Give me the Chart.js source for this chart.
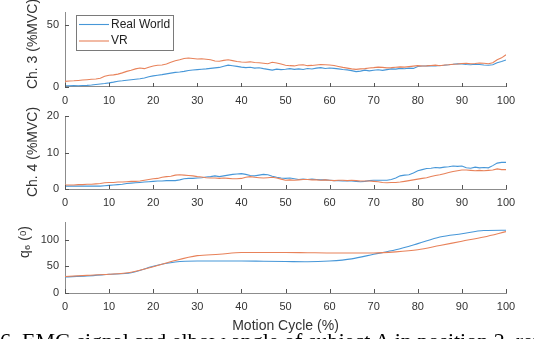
<!DOCTYPE html>
<html>
<head>
<meta charset="utf-8">
<script src="https://cdn.jsdelivr.net/npm/chart.js@4/dist/chart.umd.min.js"></script>
<style>
  html, body { margin: 0; padding: 0; background: #fff; }
  #wrap { position: relative; width: 534px; height: 339px; overflow: hidden; background: #fff; }
  #wrap canvas { position: absolute; left: 0; top: 0; }
  #caption { position: absolute; left: 0px; top: 329px; font-family: "Liberation Serif", "Times New Roman", serif; font-size: 22px; line-height: 24px; color: #000; white-space: nowrap; }
</style>
</head>
<body>
<div id="wrap">
  <canvas id="c1" width="534" height="339"></canvas>
  <canvas id="c2" width="534" height="339"></canvas>
  <canvas id="c3" width="534" height="339"></canvas>
  <div id="caption">6. EMG signal and elbow angle of subject A in position 2, repetition 1.</div>
</div>
<script>
// ---------- DATA ----------
const seriesNames = ["Real World", "VR"];
const cycleEMG = [0,1,2,3,4,5,6,7,8,9,10,11,12,13,14,15,16,17,18,19,20,21,22,23,24,25,26,27,28,29,30,31,32,33,34,35,36,37,38,39,40,41,42,43,44,45,46,47,48,49,50,51,52,53,54,55,56,57,58,59,60,61,62,63,64,65,66,67,68,69,70,71,72,73,74,75,76,77,78,79,80,81,82,83,84,85,86,87,88,89,90,91,92,93,94,95,96,97,98,99,100];
const cycleAngle = [0,5,10,15,20,25,30,35,40,45,50,55,60,65,70,75,80,85,90,95,100];
const xTicks = [0,10,20,30,40,50,60,70,80,90,100];

const ch3RealWorld = [1.0,1.0,1.1,1.0,1.2,1.3, 1.6,2.0,2.4,2.8,3.3, 3.9,4.6,5.0,5.5,5.9, 6.3,6.6,7.2,8.2,9.0, 9.5,10.0,10.6,11.2,11.8, 12.1,12.6,13.3,13.7,14.0, 14.3,14.6,15.0,15.4,15.8, 16.8,17.6,17.2,16.6,16.0, 15.6,15.9,15.2,15.5,14.8, 14.2,13.6,14.4,14.0,14.3, 14.8,14.2,14.6,14.1,14.9, 14.5,15.2,15.6,14.9,15.3, 15.0,14.6,14.1,13.8,13.2, 12.4,12.8,13.6,13.0,13.5, 13.9,13.4,14.0,14.6,14.4, 15.0,14.7,15.2,15.0,16.6, 16.9,17.0,17.2,16.9,17.4, 17.6,17.9,18.3,18.8,18.5, 18.2,18.0,18.4,18.1,17.8, 17.6,17.9,19.6,20.5,21.8];
const ch3VR = [4.5,4.8,5.0,5.3,5.6,5.9, 6.2,6.5,7.0,8.6,9.5, 9.8,10.4,11.4,12.6,13.5, 14.6,15.3,14.8,16.0,17.0, 17.5,17.8,18.6,20.0,21.2, 22.0,23.0,23.4,23.0,22.6, 22.8,22.4,22.0,21.0,20.8, 21.5,22.0,21.3,20.6,20.2, 20.0,20.3,19.8,19.6,19.2, 18.8,19.9,19.4,18.5,17.6, 17.2,17.0,17.8,18.0,17.2, 17.4,17.8,18.2,18.0,17.8, 17.3,16.6,15.8,15.2,14.6, 14.2,14.6,14.8,15.3,15.6, 16.0,15.8,15.4,15.6,15.9, 16.2,16.0,16.4,16.8,17.2, 16.9,17.0,17.4,17.6,17.2, 17.8,18.0,18.4,18.6,19.0, 19.2,18.8,19.0,19.4,19.2, 18.8,19.6,22.0,23.5,26.0];

const ch4RealWorld = [0.8,0.8,0.8,0.8,0.8,0.8, 0.8,0.8,0.8,0.9,1.0, 1.1,1.2,1.3,1.5,1.6, 1.7,1.8,1.9,2.0,2.1, 2.2,2.2,2.3,2.3,2.3, 2.5,2.8,2.9,2.9,3.0, 3.1,3.3,3.4,3.6,3.4, 3.6,3.8,4.0,4.1,4.2, 4.0,3.7,3.6,3.8,4.0, 3.9,3.5,3.2,3.0,2.9, 3.0,2.8,2.6,2.7,2.6, 2.7,2.6,2.5,2.5,2.4, 2.3,2.3,2.2,2.3,2.2, 2.1,2.0,2.1,2.3,2.4, 2.4,2.4,2.4,2.6,3.0, 3.6,3.8,3.9,4.4,5.0, 5.3,5.6,5.7,5.9,5.8, 6.0,6.1,6.3,6.2,6.3, 5.8,5.7,6.0,5.8,5.9, 5.8,6.4,7.1,7.3,7.3];
const ch4VR = [1.1,1.1,1.1,1.2,1.2,1.3, 1.3,1.4,1.5,1.7,1.8, 1.8,1.9,1.9,2.0,2.1, 2.1,2.2,2.4,2.6,2.8, 2.9,3.2,3.4,3.5,3.8, 3.9,3.8,3.7,3.6,3.4, 3.3,3.1,3.0,3.0,2.9, 3.0,2.9,2.8,2.8,2.9, 3.2,3.4,3.2,3.1,3.0, 3.1,3.2,3.0,2.7,2.4, 2.5,2.4,2.5,2.6,2.6, 2.5,2.5,2.4,2.5,2.4, 2.3,2.4,2.4,2.3,2.4, 2.3,2.2,2.2,2.2,2.1, 2.0,1.8,1.7,1.8,1.8, 1.9,2.1,2.3,2.5,2.7, 2.9,3.1,3.4,3.7,3.9, 4.2,4.5,4.8,5.0,5.2, 5.2,5.1,5.0,5.1,5.0, 5.1,5.2,5.5,5.3,5.3];

const q6RealWorld = [30,32,35,38,50,58,60,60,60,59.5,59,58.5,60,64,72.5,81,92.5,105,111,117,117.5];
const q6VR = [31,33,35,39,49,61,70,72.5,76,76,76,75.5,75,75,75,77,81,89,97,105,115];

// ---------- STYLE ----------
const BLUE = '#4797d8';
const ORANGE = '#e8825a';
const AXIS = '#8c8c8c';
const TXT = '#333333';
const FONT = "'Liberation Sans', Arial, sans-serif";

const inwardTicks = {
  id: 'inwardTicks',
  afterDraw(chart) {
    const ctx = chart.ctx, xs = chart.scales.x, ys = chart.scales.y, a = chart.chartArea;
    ctx.save();
    ctx.strokeStyle = '#555';
    ctx.lineWidth = 1;
    ctx.beginPath();
    xs.ticks.forEach(t => {
      const px = Math.round(xs.getPixelForValue(t.value)) + 0.5;
      ctx.moveTo(px, a.bottom); ctx.lineTo(px, a.bottom - 4);
    });
    ys.ticks.forEach(t => {
      const py = Math.round(ys.getPixelForValue(t.value)) + 0.5;
      ctx.moveTo(a.left, py); ctx.lineTo(a.left + 4, py);
    });
    ctx.stroke();
    ctx.restore();
  }
};

// y-axis title drawn beside the axis, rotated
const yTitle = {
  id: 'yTitle',
  afterDraw(chart) {
    const o = chart.options.plugins.yTitle;
    if (!o) return;
    const ctx = chart.ctx;
    ctx.save();
    ctx.translate(o.x, o.y);
    ctx.rotate(-Math.PI / 2);
    ctx.fillStyle = TXT;
    ctx.textAlign = 'center';
    ctx.textBaseline = 'middle';
    ctx.font = "14px " + FONT;
    ctx.fillText(o.text, 0, 0);
    ctx.restore();
  }
};

const legendBox = {
  id: 'legendBox',
  afterDraw(chart) {
    if (!chart.options.plugins.legendBox || !chart.options.plugins.legendBox.show) return;
    const ctx = chart.ctx;
    const x0 = 76, y0 = 15, w = 97, h = 35;
    ctx.save();
    ctx.fillStyle = '#fff';
    ctx.fillRect(x0, y0, w, h);
    ctx.strokeStyle = '#7a7a7a';
    ctx.lineWidth = 1;
    ctx.strokeRect(x0 + 0.5, y0 + 0.5, w, h);
    ctx.font = "12px " + FONT;
    ctx.textBaseline = 'middle';
    chart.data.datasets.forEach((ds, i) => {
      const y = y0 + 9.5 + i * 16.5;
      ctx.strokeStyle = ds.borderColor;
      ctx.lineWidth = 1.1;
      ctx.beginPath(); ctx.moveTo(x0 + 3, y); ctx.lineTo(x0 + 33, y); ctx.stroke();
      ctx.fillStyle = '#222';
      ctx.fillText(ds.label, x0 + 35, y);
    });
    ctx.restore();
  }
};

function makeChart(id, labels, blueData, orangeData, cfg) {
  return new Chart(document.getElementById(id), {
    type: 'line',
    data: {
      labels: labels,
      datasets: [
        { label: seriesNames[0], data: blueData, borderColor: BLUE, borderWidth: 1.1, pointRadius: 0, tension: cfg.tension, cubicInterpolationMode: cfg.mono ? 'monotone' : 'default', order: 1 },
        { label: seriesNames[1], data: orangeData, borderColor: ORANGE, borderWidth: 1.1, pointRadius: 0, tension: cfg.tension, cubicInterpolationMode: cfg.mono ? 'monotone' : 'default', order: 0 }
      ]
    },
    options: {
      responsive: false,
      animation: false,
      events: [],
      layout: { padding: { left: 0, right: 28, top: cfg.top, bottom: cfg.bottom } },
      plugins: { legend: { display: false }, tooltip: { enabled: false }, legendBox: { show: cfg.legend }, yTitle: { text: cfg.ytitle, x: cfg.tx, y: cfg.ty } },
      scales: {
        x: {
          type: 'linear', min: 0, max: 100,
          afterBuildTicks: s => { s.ticks = xTicks.map(v => ({ value: v })); },
          afterFit: s => { s.height = cfg.xh; },
          grid: { display: false, drawTicks: false },
          border: { display: true, color: AXIS, width: 1 },
          ticks: { color: TXT, font: { family: FONT, size: 11 }, padding: 7, maxRotation: 0, autoSkip: false },
          title: cfg.xtitle ? { display: true, text: cfg.xtitle, color: TXT, font: { family: FONT, size: 14 }, padding: { top: 0, bottom: 4 } } : { display: false }
        },
        y: {
          type: 'linear', min: 0, max: cfg.ymax,
          afterBuildTicks: s => { s.ticks = cfg.yticks.map(v => ({ value: v })); },
          afterFit: s => { s.width = 65; },
          grid: { display: false, drawTicks: false },
          border: { display: true, color: AXIS, width: 1 },
          ticks: { color: TXT, font: { family: FONT, size: 11 }, padding: 6 },
          title: { display: false }
        }
      }
    },
    plugins: [inwardTicks, legendBox, yTitle]
  });
}

makeChart('c1', cycleEMG, ch3RealWorld, ch3VR, { top: 12, bottom: 232, xh: 20, ymax: 60, yticks: [0, 50], ytitle: 'Ch. 3 (%MVC)', tx: 33, ty: 44, legend: true, tension: 0 });
makeChart('c2', cycleEMG, ch4RealWorld, ch4VR, { top: 116, bottom: 130, xh: 20, ymax: 20, yticks: [0, 10, 20], ytitle: 'Ch. 4 (%MVC)', tx: 33, ty: 152, legend: false, tension: 0 });
makeChart('c3', cycleAngle, q6RealWorld, q6VR, { top: 222, bottom: 0, xh: 46, ymax: 133, yticks: [0, 50, 100], ytitle: 'q\u2086 (\u1D52)', tx: 25, ty: 242, legend: false, tension: 0.4, mono: true, xtitle: 'Motion Cycle (%)' });
</script>
</body>
</html>
